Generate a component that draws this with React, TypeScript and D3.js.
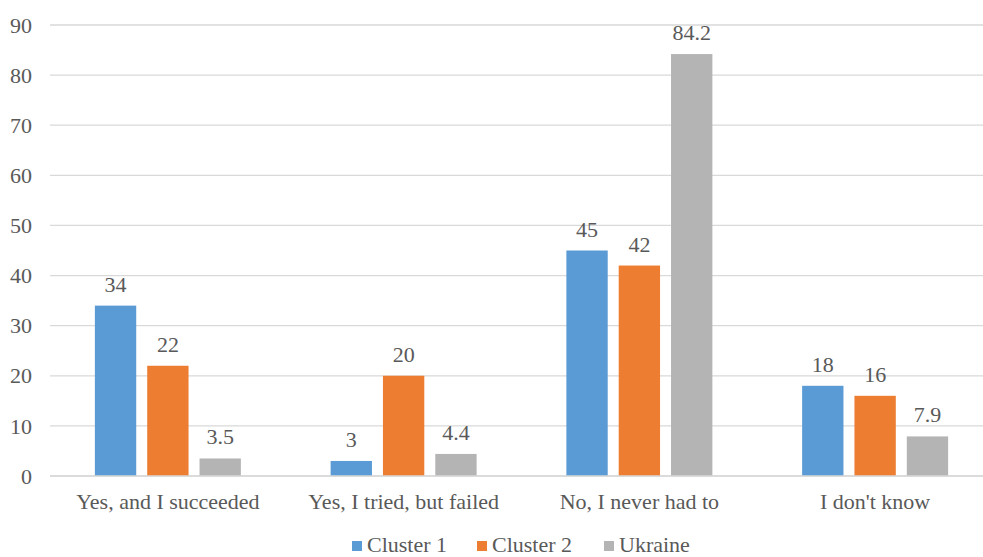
import React from "react";
import * as d3 from "d3";

const categories = ["Yes, and I succeeded", "Yes, I tried, but failed", "No, I never had to", "I don't know"];
const seriesNames = ["Cluster 1", "Cluster 2", "Ukraine"];
const cluster1 = [34, 3, 45, 18];
const cluster2 = [22, 20, 42, 16];
const ukraine = [3.5, 4.4, 84.2, 7.9];
const yTicks = [0, 10, 20, 30, 40, 50, 60, 70, 80, 90];
const colors = ["#5B9BD5", "#ED7D31", "#B4B4B4"];

const FONT = "Liberation Serif, Times New Roman, serif";

export default function App() {
  const W = 983, H = 557;
  const left = 50, right = 993, top = 25, bottom = 476;
  const series = [cluster1, cluster2, ukraine];
  const x0 = d3.scaleBand().domain(categories).range([left, right]).paddingInner(0).paddingOuter(0);
  const y = d3.scaleLinear().domain([0, 90]).range([bottom, top]);
  const groupW = 146;
  const x1 = d3.scaleBand().domain(seriesNames).range([0, groupW]).paddingInner(0.21).paddingOuter(0);
  const txt = "#595959";
  const ts = { fontFamily: FONT, fontSize: "22px" } as React.CSSProperties;
  const legendX = [352, 477, 604];
  return (
    <svg width={W} height={H} style={{ position: "absolute", left: 0, top: 0, background: "#fff", fontFamily: FONT }}>
      {yTicks.map((t) => (
        <g key={t}>
          <line x1={left} x2={right} y1={y(t)} y2={y(t)} stroke="#D9D9D9" strokeWidth={1.3} />
          <text x={32} y={y(t)} dy="0.35em" textAnchor="end" style={ts} fill={txt}>{t}</text>
        </g>
      ))}
      {categories.map((c, i) => {
        const gx = (x0(c) as number) + (x0.bandwidth() - groupW) / 2;
        return (
          <g key={c}>
            {series.map((s, j) => {
              const bx = gx + (x1(seriesNames[j]) as number);
              const v = s[i];
              return (
                <g key={j}>
                  <rect x={bx} y={y(v)} width={x1.bandwidth()} height={y(0) - y(v)} fill={colors[j]} />
                  <text x={bx + x1.bandwidth() / 2} y={y(v) - 14} textAnchor="middle" style={ts} fill={txt}>{v}</text>
                </g>
              );
            })}
            <text x={(x0(c) as number) + x0.bandwidth() / 2} y={509} textAnchor="middle" style={ts} fill={txt}>{c}</text>
          </g>
        );
      })}
      <line x1={left} x2={right} y1={y(0)} y2={y(0)} stroke="#D9D9D9" strokeWidth={1.3} />
      {seriesNames.map((n, j) => (
        <g key={n}>
          <rect x={legendX[j]} y={541} width={10} height={10} fill={colors[j]} />
          <text x={legendX[j] + 15} y={552} style={ts} fill={txt}>{n}</text>
        </g>
      ))}
    </svg>
  );
}
